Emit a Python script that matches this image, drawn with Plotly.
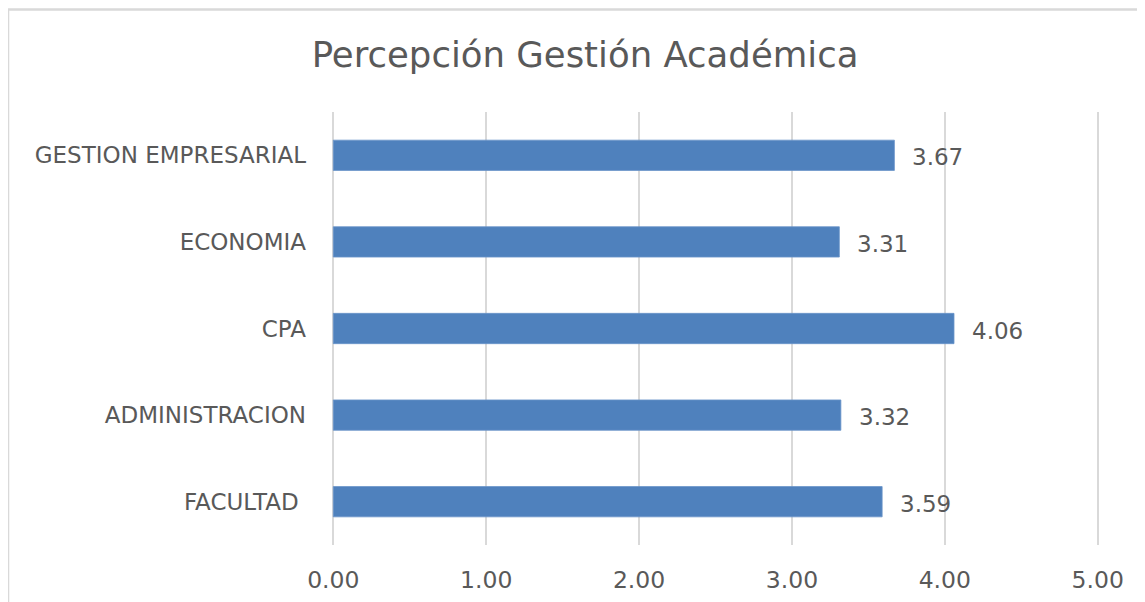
import plotly.graph_objects as go

categories = ["FACULTAD ", "ADMINISTRACION", "CPA", "ECONOMIA", "GESTION EMPRESARIAL"]
values = [3.59, 3.32, 4.06, 3.31, 3.67]
tick_vals = [0, 1, 2, 3, 4, 5]
tick_text = ["0.00", "1.00", "2.00", "3.00", "4.00", "5.00"]

FONT = "DejaVu Sans"
GRAY = "#595959"

fig = go.Figure(go.Bar(
    y=categories, x=values, orientation="h",
    marker=dict(color="#4F81BD", line=dict(color="#6a94c9", width=0.8)),
    width=0.35,
    cliponaxis=False,
))

for c, v in zip(categories, values):
    fig.add_annotation(x=v, y=c, text=f"{v:.2f}", showarrow=False,
                       xanchor="left", yanchor="middle", xshift=16, yshift=-2,
                       font=dict(family=FONT, size=23, color=GRAY))

fig.update_layout(
    width=1145, height=602,
    margin=dict(l=323, r=53, t=104, b=65),
    paper_bgcolor="white", plot_bgcolor="white",
    title=dict(text="Percepción Gestión Académica", x=0.504, xanchor="center",
               y=0.922, yanchor="middle",
               font=dict(family=FONT, size=35.5, color=GRAY)),
    xaxis=dict(range=[-0.015, 5.015], tickvals=tick_vals, ticktext=tick_text,
               showgrid=True, gridcolor="#D9D9D9", gridwidth=2,
               zeroline=False, showline=False, ticks="",
               ticklabelstandoff=18,
               tickfont=dict(family=FONT, size=23.5, color=GRAY)),
    yaxis=dict(showgrid=False, zeroline=False, showline=False, ticks="",
               ticklabelstandoff=24,
               tickfont=dict(family=FONT, size=23, color=GRAY)),
    showlegend=False,
    shapes=[dict(type="rect", xref="paper", yref="paper",
                 x0=-0.42, x1=1.1, y0=-0.2, y1=1.2367,
                 line=dict(color="#D9D9D9", width=2.5), fillcolor="rgba(0,0,0,0)",
                 layer="below")],
)

fig.write_html("out.html")
